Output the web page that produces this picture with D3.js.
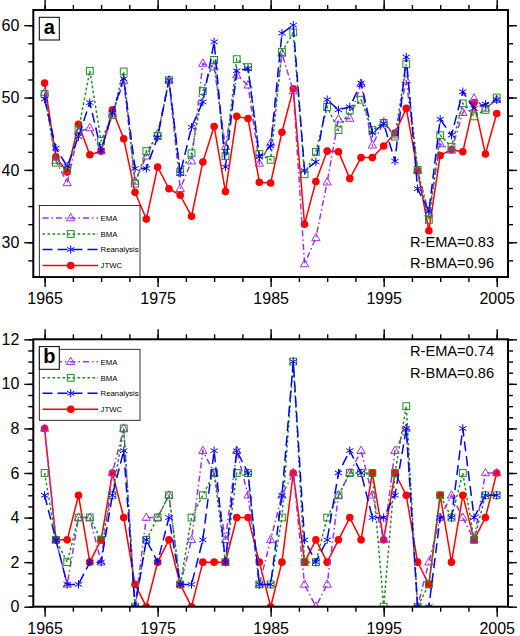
<!DOCTYPE html>
<html>
<head>
<meta charset="utf-8">
<script src="https://cdn.jsdelivr.net/npm/d3@7"></script>
<style>
  html, body { margin: 0; padding: 0; background: #fff; }
  svg { display: block; font-family: "Liberation Sans", Arial, Helvetica, sans-serif; }
</style>
</head>
<body>
<svg id="chart" width="520" height="636"></svg>
<script>
// ---------------- DATA ----------------
const years = [1965,1966,1967,1968,1969,1970,1971,1972,1973,1974,1975,1976,1977,1978,1979,1980,
  1981,1982,1983,1984,1985,1986,1987,1988,1989,1990,1991,1992,1993,1994,1995,1996,1997,1998,1999,
  2000,2001,2002,2003,2004,2005];

const seriesNames = ["EMA", "BMA", "Reanalysis", "JTWC"];

// Panel a
const emaA  = [50.7,41.3,38.2,45.3,45.8,42.6,47.7,52.3,38.4,41.9,45.0,52.4,37.4,41.2,54.7,54.2,
  43.2,53.1,51.7,40.9,43.7,56.1,50.9,27.0,30.6,38.3,47.0,47.1,51.9,43.4,46.6,44.8,52.4,39.9,34.0,
  43.6,42.7,47.9,49.9,48.5,49.7];
const bmaA  = [50.5,41.0,40.0,45.5,53.7,44.0,47.6,53.6,38.1,42.6,44.7,52.4,39.7,42.3,50.9,55.2,
  41.9,55.3,54.2,42.2,41.4,56.3,59.0,39.4,42.5,48.7,45.5,48.2,49.7,45.5,46.5,44.6,54.6,40.0,33.1,
  44.8,43.2,49.2,47.4,48.3,50.0];
const reanA = [49.8,43.0,40.5,44.6,49.3,42.7,47.9,52.6,40.2,40.2,44.5,52.4,39.5,45.9,49.4,57.7,
  40.4,53.7,54.0,41.8,43.3,58.9,60.0,39.9,41.1,49.7,48.3,48.7,52.0,45.1,46.4,41.2,55.6,37.4,34.3,
  47.0,44.8,50.8,48.5,49.1,49.7];
const jtwcA = [52.0,41.8,39.7,46.3,42.1,42.6,48.3,44.3,36.9,33.2,40.4,37.4,36.5,33.6,41.1,46.0,
  37.0,47.4,47.1,38.3,38.2,45.2,51.2,32.5,38.4,42.6,42.5,38.8,41.7,41.7,43.3,45.1,48.5,39.9,31.6,
  42.0,42.8,42.5,49.3,42.2,47.8];

// Panel b
const emaB  = [8,3,1,4,4,2,6,8,0,4,4,5,1,3,7,6,3,7,5,1,3,5,6,1,0,1,5,6,7,5,3,7,8,0,2,4,5,4,3,6,6];
const bmaB  = [6,3,2,4,4,3,5,8,0,3,4,5,1,4,5,6,2,6,6,1,1,4,11,2,2,4,5,6,6,6,0,6,9,0,1,5,4,6,3,5,5];
const reanB = [5,3,1,1,2,2,5,7,0,3,2,4,1,1,3,7,2,7,6,1,1,5,11,3,2,3,6,7,6,4,4,5,8,0,0,4,4,8,4,5,5];
const jtwcB = [8,3,3,5,2,3,6,4,1,0,2,3,1,0,2,2,2,4,4,2,0,2,6,2,3,2,3,4,3,6,3,6,5,2,1,5,2,5,3,4,6];

// Tick labels
const xTickYears = [1965, 1975, 1985, 1995, 2005];
const yTicksA = [30, 40, 50, 60];
const yTicksB = [0, 2, 4, 6, 8, 10, 12];
const panelLabels = ["a", "b"];
const corrTextA = ["R-EMA=0.83", "R-BMA=0.96"];
const corrTextB = ["R-EMA=0.74", "R-BMA=0.86"];

// ---------------- STYLE ----------------
const styles = {
  "EMA":        { color: "#a030f0", dash: "6,3,1.5,3", marker: "triangle" },
  "BMA":        { color: "#1f8f1f", dash: "2.6,2.4",  marker: "square" },
  "Reanalysis": { color: "#0000ff", dash: "10,5",     marker: "asterisk" },
  "JTWC":       { color: "#ff0000", dash: null,       marker: "circle" }
};

const svg = d3.select("#chart");
const X0 = 33.3, X1 = 508;
const x = d3.scaleLinear().domain([1964, 2006]).range([X0, X1]);

function drawMarker(g, type, cx, cy, color) {
  if (type === "circle") {
    g.append("circle").attr("cx", cx).attr("cy", cy).attr("r", 3.8)
      .attr("fill", color).attr("stroke", "none");
  } else if (type === "square") {
    g.append("rect").attr("x", cx - 3.4).attr("y", cy - 3.4).attr("width", 6.8).attr("height", 6.8)
      .attr("fill", "none").attr("stroke", color).attr("stroke-width", 1);
  } else if (type === "triangle") {
    const r = 4.6;
    g.append("path")
      .attr("d", `M${cx},${cy - r}L${cx + r * 0.9},${cy + r * 0.6}L${cx - r * 0.9},${cy + r * 0.6}Z`)
      .attr("fill", "none").attr("stroke", color).attr("stroke-width", 1);
  } else if (type === "asterisk") {
    const r = 4.2;
    let d = "";
    [90, 30, 150].forEach(a => {
      const rad = a * Math.PI / 180;
      const dx = r * Math.cos(rad), dy = r * Math.sin(rad);
      d += `M${cx - dx},${cy - dy}L${cx + dx},${cy + dy}`;
    });
    g.append("path").attr("d", d).attr("fill", "none").attr("stroke", color).attr("stroke-width", 1);
  }
}

function drawPanel(cfg) {
  const g = svg.append("g");
  const y = d3.scaleLinear().domain(cfg.yDomain).range([cfg.bottom, cfg.top]);

  // frame background
  g.append("rect").attr("x", X0).attr("y", cfg.top).attr("width", X1 - X0).attr("height", cfg.bottom - cfg.top)
    .attr("fill", "#fff");

  // axes
  const xMinor = d3.range(1965, 2006, 2.5);
  const yMinor = d3.range(cfg.yDomain[0] <= 0 ? 0 : 25, cfg.yDomain[1] + 0.001, cfg.yMinorStep)
    .filter(v => v >= cfg.yDomain[0] - 1e-6 && v <= cfg.yDomain[1] + 1e-6);

  function styleAxis(sel) {
    sel.select(".domain").remove();
    sel.selectAll("line").attr("stroke", "#000").attr("stroke-width", 1.4);
    sel.selectAll("text").attr("fill", "#000").attr("font-size", 16)
      .attr("font-family", "'Liberation Sans', Arial, sans-serif");
  }
  // bottom
  g.append("g").attr("transform", `translate(0,${cfg.bottom})`)
    .call(d3.axisBottom(x).tickValues(xMinor).tickSize(5).tickFormat("")).call(styleAxis);
  g.append("g").attr("transform", `translate(0,${cfg.bottom})`)
    .call(d3.axisBottom(x).tickValues(xTickYears).tickSize(10).tickPadding(6).tickFormat(d3.format("d")))
    .call(styleAxis);
  // top
  g.append("g").attr("transform", `translate(0,${cfg.top})`)
    .call(d3.axisTop(x).tickValues(xMinor).tickSize(5).tickFormat("")).call(styleAxis);
  g.append("g").attr("transform", `translate(0,${cfg.top})`)
    .call(d3.axisTop(x).tickValues(xTickYears).tickSize(10).tickFormat("")).call(styleAxis);
  // left
  g.append("g").attr("transform", `translate(${X0},0)`)
    .call(d3.axisLeft(y).tickValues(yMinor).tickSize(5).tickFormat("")).call(styleAxis);
  g.append("g").attr("transform", `translate(${X0},0)`)
    .call(d3.axisLeft(y).tickValues(cfg.yTicks).tickSize(9).tickPadding(5).tickFormat(d3.format("d")))
    .call(styleAxis);
  // right
  g.append("g").attr("transform", `translate(${X1},0)`)
    .call(d3.axisRight(y).tickValues(yMinor).tickSize(5).tickFormat("")).call(styleAxis);
  g.append("g").attr("transform", `translate(${X1},0)`)
    .call(d3.axisRight(y).tickValues(cfg.yTicks).tickSize(9).tickFormat("")).call(styleAxis);

  // clip
  const clipId = "clip" + cfg.label;
  svg.append("clipPath").attr("id", clipId).append("rect")
    .attr("x", X0).attr("y", cfg.top).attr("width", X1 - X0).attr("height", cfg.bottom - cfg.top);

  const plot = g.append("g").attr("clip-path", `url(#${clipId})`);
  const order = ["JTWC", "EMA", "BMA", "Reanalysis"];
  order.forEach(name => {
    const vals = cfg.series[name];
    const st = styles[name];
    const pts = years.map((yr, i) => [x(yr), y(vals[i])]);
    plot.append("path").attr("d", d3.line()(pts))
      .attr("fill", "none").attr("stroke", st.color).attr("stroke-width", 1.5)
      .attr("stroke-dasharray", st.dash);
    const mg = plot.append("g");
    pts.forEach(p => drawMarker(mg, st.marker, p[0], p[1], st.color));
  });

  // frame
  g.append("rect").attr("x", X0).attr("y", cfg.top).attr("width", X1 - X0).attr("height", cfg.bottom - cfg.top)
    .attr("fill", "none").attr("stroke", "#000").attr("stroke-width", 2);

  // legend
  const lg = g.append("g");
  const lx = 39.3, lw = 100.7;
  lg.append("rect").attr("x", lx).attr("y", cfg.legendTop).attr("width", lw).attr("height", 71)
    .attr("fill", "#fff").attr("stroke", "#000").attr("stroke-width", 0.8);
  const offs = [12.5, 28.5, 44, 60];
  seriesNames.forEach((name, i) => {
    const st = styles[name];
    const yy = cfg.legendTop + offs[i];
    lg.append("line").attr("x1", 42.5).attr("x2", 98).attr("y1", yy).attr("y2", yy)
      .attr("stroke", st.color).attr("stroke-width", 1.5).attr("stroke-dasharray", st.dash);
    drawMarker(lg, st.marker, 70.7, yy, st.color);
    lg.append("text").attr("x", 100.5).attr("y", yy + 2.8).attr("font-size", 7.8)
      .attr("fill", "#000").text(name);
  });

  // panel label
  g.append("rect").attr("x", 39.3).attr("y", cfg.top + 7.3).attr("width", 20).attr("height", 22.7)
    .attr("fill", "#fff").attr("stroke", "#000").attr("stroke-width", 1);
  g.append("text").attr("x", 49.3).attr("y", cfg.top + 23.8).attr("text-anchor", "middle")
    .attr("font-size", 20).attr("font-weight", "bold").attr("fill", "#000").text(cfg.label);

  // correlation text
  cfg.corr.forEach((t, i) => {
    g.append("text").attr("x", 494).attr("y", cfg.corrY[i]).attr("text-anchor", "end")
      .attr("font-size", 14.6).attr("fill", "#000").text(t);
  });
}

drawPanel({
  label: panelLabels[0], top: 10, bottom: 277, yDomain: [25.2, 62.1], yTicks: yTicksA, yMinorStep: 2.5,
  series: { "EMA": emaA, "BMA": bmaA, "Reanalysis": reanA, "JTWC": jtwcA },
  legendTop: 205.5, corr: corrTextA, corrY: [247.3, 268.3]
});
drawPanel({
  label: panelLabels[1], top: 339.3, bottom: 606.7, yDomain: [0, 12], yTicks: yTicksB, yMinorStep: 0.5,
  series: { "EMA": emaB, "BMA": bmaB, "Reanalysis": reanB, "JTWC": jtwcB },
  legendTop: 349.3, corr: corrTextB, corrY: [355.5, 377.7]
});
</script>
</body>
</html>
